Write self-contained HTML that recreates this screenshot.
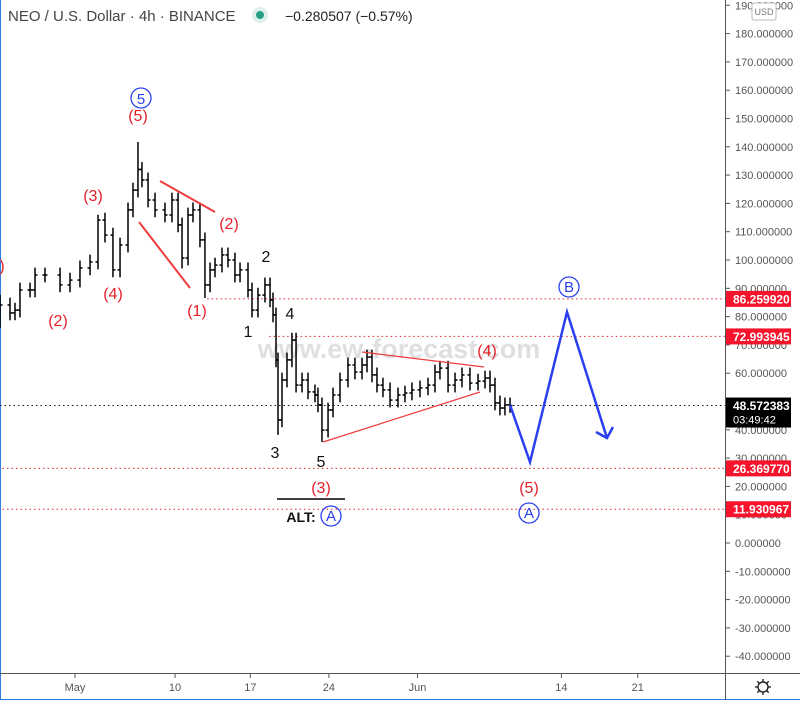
<!DOCTYPE html>
<html><head><meta charset="utf-8">
<style>
html,body{margin:0;padding:0;background:#fff;}
body{width:800px;height:700px;overflow:hidden;font-family:"Liberation Sans",sans-serif;}
svg text{font-family:"Liberation Sans",sans-serif;}
</style></head>
<body>
<svg id="chart" width="800" height="700" viewBox="0 0 800 700" xmlns="http://www.w3.org/2000/svg">
  <rect x="0" y="0" width="800" height="700" fill="#fff"/>
  <line x1="0.5" y1="0" x2="0.5" y2="700" stroke="#2f7fe0" stroke-width="1"/>
  <line x1="0" y1="699.5" x2="800" y2="699.5" stroke="#2f7fe0" stroke-width="1"/>
  <text x="399" y="358" font-size="27" fill="#d8d8d8" font-weight="bold" text-anchor="middle" opacity="0.8">www.ew-forecast.com</text>
  <g id="levels"></g>
  <g id="bars"></g>
  <g id="annot">
    <line x1="160" y1="181" x2="215" y2="212" stroke="#f03c3c" stroke-width="2"/>
    <line x1="139" y1="222" x2="190" y2="288" stroke="#f03c3c" stroke-width="2"/>
    <line x1="362" y1="352" x2="484" y2="367" stroke="#f03c3c" stroke-width="1.2"/>
    <line x1="323" y1="442" x2="480" y2="392" stroke="#f03c3c" stroke-width="1.2"/>
    <polyline points="510,405 530,462 567,312 607,438" fill="none" stroke="#2a3ff0" stroke-width="2.5"/>
    <polyline points="596,432 607,438 613,427" fill="none" stroke="#2a3ff0" stroke-width="2.5"/>
    <line x1="277" y1="499" x2="345" y2="499" stroke="#000" stroke-width="1.5"/>
    <g font-size="16" fill="#e8202a" text-anchor="middle">
      <text x="138" y="121">(5)</text>
      <text x="93" y="201">(3)</text>
      <text x="113" y="299">(4)</text>
      <text x="58" y="326">(2)</text>
      <text x="2" y="271">)</text>
      <text x="197" y="316">(1)</text>
      <text x="229" y="229">(2)</text>
      <text x="487" y="356">(4)</text>
      <text x="321" y="493">(3)</text>
      <text x="529" y="493">(5)</text>
    </g>
    <g font-size="16" fill="#111" text-anchor="middle">
      <text x="266" y="262">2</text>
      <text x="248" y="337">1</text>
      <text x="290" y="319">4</text>
      <text x="275" y="458">3</text>
      <text x="321" y="467">5</text>
      <text x="301" y="522" font-size="14" font-weight="bold">ALT:</text>
    </g>
    <g fill="none" stroke="#2a3ff0" stroke-width="1.3">
      <circle cx="141" cy="98" r="10"/>
      <circle cx="331" cy="516" r="10"/>
      <circle cx="569" cy="287" r="10"/>
      <circle cx="529" cy="513" r="10"/>
    </g>
    <g font-size="15" fill="#2a3ff0" text-anchor="middle">
      <text x="141" y="104">5</text>
      <text x="331" y="521">A</text>
      <text x="569" y="292">B</text>
      <text x="529" y="518">A</text>
    </g>
  </g>
  <g id="yaxis">
    <line x1="725.5" y1="0" x2="725.5" y2="700" stroke="#555" stroke-width="1"/>
  </g>
  <g id="xaxis">
    <line x1="0" y1="673.5" x2="800" y2="673.5" stroke="#555" stroke-width="1"/>
  </g>
  <g id="tags"></g>
  <rect x="752" y="3" width="24" height="17" rx="2" fill="#fff" stroke="#bbb"/>
  <text x="764" y="15" font-size="9" fill="#777" text-anchor="middle">USD</text>
  <g stroke="#111" fill="none" stroke-width="1.3">
    <circle cx="763" cy="687" r="5"/>
    <path d="M763 679v3M763 692v3M755 687h3M768 687h3M757.3 681.3l2 2M766.7 690.7l2 2M757.3 692.7l2-2M766.7 683.3l2-2"/>
  </g>
  <text x="8" y="21" font-size="15" fill="#444">NEO / U.S. Dollar · 4h · BINANCE</text>
  <circle cx="260" cy="15" r="8" fill="#dff0ec"/>
  <circle cx="260" cy="15" r="4" fill="#26a085"/>
  <text x="285" y="21" font-size="14" fill="#222">−0.280507 (−0.57%)</text>
</svg>
<script>
const days = [-6.41,-5.51,-5.06,-4.61,-3.7,-3.25,-2.35,-0.99,-0.09,0.81,1.72,2.44,3.07,3.79,4.43,5.15,5.6,6.05,6.41,6.96,7.59,8.49,9.12,9.67,10.03,10.57,11.02,11.65,12.1,12.56,13.01,13.64,14.18,14.81,15.27,15.99,16.35,16.89,17.52,17.98,18.25,18.52,18.7,19.06,19.51,19.96,20.33,20.87,21.41,22.04,22.31,22.67,23.22,23.67,24.3,25.02,25.65,26.29,26.74,27.19,27.64,28.18,28.82,29.54,30.17,30.8,31.53,32.25,32.88,33.33,34.06,34.69,35.32,36.04,36.77,37.4,37.85,38.3,38.75,39.2,39.66];
const closes = [84.1,81.3,82.3,89.4,89.4,94.7,94.7,91.2,92.9,97.2,99.3,114.1,108.8,96.5,105.3,117.7,124.7,132,128.3,121.2,117.7,115.9,121.2,112.4,100.7,115.9,117.7,107.1,91.2,96.5,98.2,101.8,100,94.7,96.5,89.4,82.3,87.6,91.2,85.9,80.6,64.7,43.5,57.6,64.7,71.7,55.8,57.6,53.4,52.3,48.8,39.9,47,52.3,57.6,62.9,60.4,62.9,65.7,59.4,55.8,54.1,50.5,52.3,53,54.1,54.8,55.8,60.4,61.8,55.8,57.6,59.4,56.5,57.2,58.3,55.8,49.5,47.7,48.8,48.6];
const spikeHighs = {17:141.7,11:116};
const spikeLows = {42:38.2,51:35.7,28:86.6,24:97,0:76};
const yTicks = [190,180,170,160,150,140,130,120,110,100,90,80,70,60,50,40,30,20,10,0,-10,-20,-30,-40];
const xTickLabels = ["May","10","17","24","Jun","14","21"];
const xTickDays = [0.36,9.4,16.2,23.3,31.3,44.3,51.2];
const levelPrices = [86.259920,72.993945,26.369770,11.930967];
const levelStarts = [12.3,17.9,-7,-7];
const lastPrice = 48.572383;

const NS="http://www.w3.org/2000/svg";
const y = p => 543 - p*2.83;
const x = d => 71 + d*11.07;
function mk(tag, attrs, parent){const e=document.createElementNS(NS,tag);for(const k in attrs)e.setAttribute(k,attrs[k]);parent.appendChild(e);return e;}

const bars=document.getElementById('bars');
for(let i=0;i<closes.length;i++){
  const o = i>0?closes[i-1]:closes[i]+1;
  const c = closes[i];
  const hi = spikeHighs[i]!==undefined?spikeHighs[i]:Math.max(o,c)+2.6;
  const lo = spikeLows[i]!==undefined?spikeLows[i]:Math.min(o,c)-2.6;
  const cx = x(days[i]);
  const g = mk('g',{stroke:'#000','stroke-width':'1.5'},bars);
  
  
  mk('line',{x1:cx,y1:y(hi),x2:cx,y2:y(lo)},g);
  mk('line',{x1:cx-2.5,y1:y(o),x2:cx,y2:y(o)},g);
  mk('line',{x1:cx,y1:y(c),x2:cx+2.5,y2:y(c)},g);
}

const lv=document.getElementById('levels');
levelPrices.forEach((p,i)=>{
  const l=mk('line',{x1:x(levelStarts[i]),y1:y(p),x2:725,y2:y(p),stroke:'#e8202a','stroke-width':'1','stroke-dasharray':'1.5 3'},lv);
  
  
});
const ll=mk('line',{x1:0,y1:y(lastPrice),x2:725,y2:y(lastPrice),stroke:'#111','stroke-width':'1','stroke-dasharray':'1.5 3'},lv);



const ya=document.getElementById('yaxis');
yTicks.forEach(t=>{
  const yy=y(t);
  const tk=mk('line',{x1:726,y1:yy,x2:730,y2:yy,stroke:'#555'},ya);
  
  
  const tx=mk('text',{x:735,y:yy+4,'font-size':'11',fill:'#555'},ya);
  tx.textContent=t.toFixed(6);
  
  
});

const xa=document.getElementById('xaxis');
xTickLabels.forEach((lab,i)=>{
  const xx=x(xTickDays[i]);
  const tk=mk('line',{x1:xx,y1:674,x2:xx,y2:678,stroke:'#555'},xa);
  
  
  const tx=mk('text',{x:xx,y:691,'font-size':'11',fill:'#555','text-anchor':'middle'},xa);
  tx.textContent=lab;
  
  
});

const tags=document.getElementById('tags');
levelPrices.forEach(p=>{
  const yy=y(p);
  const r=mk('rect',{x:726,y:yy-8,width:65,height:16,fill:'#f5142c'},tags);
  
  
  const t=mk('text',{x:733,y:yy+4.5,'font-size':'12','font-weight':'bold',fill:'#fff'},tags);
  t.textContent=p.toFixed(6);
  
  
});
{
  const yy=y(lastPrice);
  const r=mk('rect',{x:726,y:yy-8,width:65,height:30,fill:'#000'},tags);
  
  
  const t=mk('text',{x:733,y:yy+4.5,'font-size':'12','font-weight':'bold',fill:'#fff'},tags);
  t.textContent=lastPrice.toFixed(6);
  
  
  const t2=mk('text',{x:733,y:yy+18,'font-size':'11',fill:'#fff'},tags);
  t2.textContent='03:49:42';
  
  
}
</script>
</body></html>
